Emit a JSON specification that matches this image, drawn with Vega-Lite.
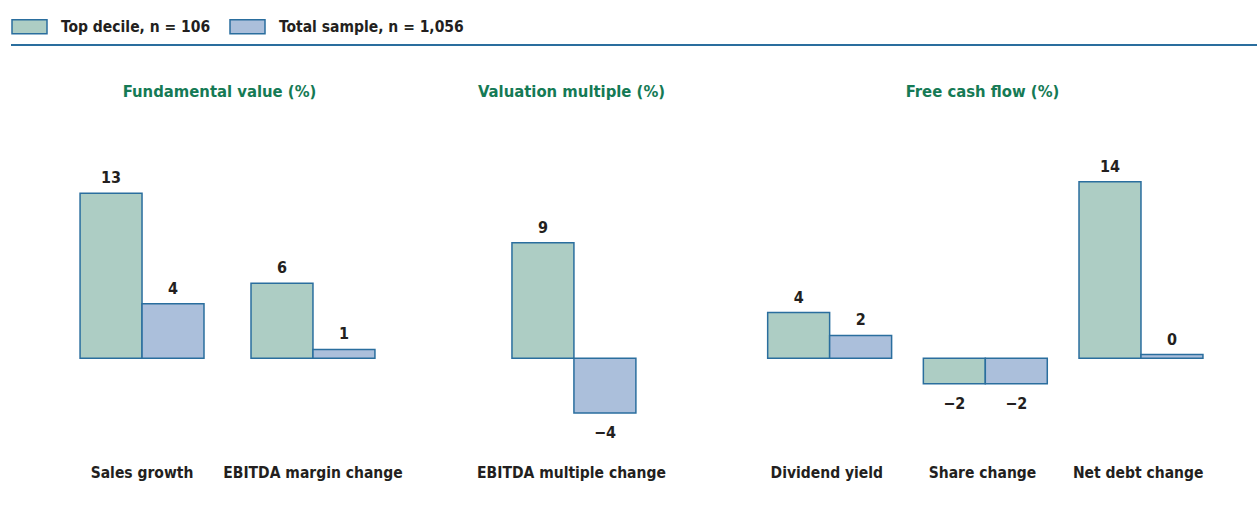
{
  "$schema": "https://vega.github.io/schema/vega-lite/v6.json",
  "padding": {"left": 10, "top": 0, "right": 0, "bottom": 30},
  "background": "white",
  "bounds": "flush",
  "spacing": 110,
  "config": {
    "view": {"stroke": null},
    "font": "DejaVu Sans Condensed, sans-serif",
    "axis": {
      "labelFont": "DejaVu Sans Condensed, sans-serif",
      "labelFontSize": 15.5,
      "labelFontWeight": "bold",
      "labelColor": "#231f20",
      "labelLimit": 0,
      "domain": false,
      "ticks": false,
      "grid": false,
      "labelPadding": 5,
      "labelAngle": 0,
      "title": null
    },
    "legend": {
      "labelFont": "DejaVu Sans Condensed, sans-serif",
      "labelFontSize": 15.5,
      "labelFontWeight": "bold",
      "labelColor": "#231f20",
      "labelLimit": 0
    }
  },
  "datasets": {
    "bars": [
      {"panel": "fund", "category": "Sales growth", "series": "Top decile, n = 106", "value": 13.0},
      {"panel": "fund", "category": "Sales growth", "series": "Total sample, n = 1,056", "value": 4.3},
      {"panel": "fund", "category": "EBITDA  margin change", "series": "Top decile, n = 106", "value": 5.9},
      {"panel": "fund", "category": "EBITDA  margin change", "series": "Total sample, n = 1,056", "value": 0.7},
      {"panel": "val", "category": "EBITDA  multiple change", "series": "Top decile, n = 106", "value": 9.1},
      {"panel": "val", "category": "EBITDA  multiple change", "series": "Total sample, n = 1,056", "value": -4.3},
      {"panel": "fcf", "category": "Dividend yield", "series": "Top decile, n = 106", "value": 3.6},
      {"panel": "fcf", "category": "Dividend yield", "series": "Total sample, n = 1,056", "value": 1.8},
      {"panel": "fcf", "category": "Share change", "series": "Top decile, n = 106", "value": -2.0},
      {"panel": "fcf", "category": "Share change", "series": "Total sample, n = 1,056", "value": -2.0},
      {"panel": "fcf", "category": "Net debt change", "series": "Top decile, n = 106", "value": 13.9},
      {"panel": "fcf", "category": "Net debt change", "series": "Total sample, n = 1,056", "value": 0.3}
    ]
  },
  "vconcat": [
    {
      "width": 1247,
      "height": 45,
      "data": {"values": [{"v": 0}]},
      "mark": {"type": "rule", "color": "#2a6e9e", "strokeWidth": 2},
      "encoding": {
        "x": {"datum": 0, "type": "quantitative", "scale": {"domain": [0, 1]}, "axis": null},
        "x2": {"datum": 1},
        "y": {"datum": 0, "type": "quantitative", "scale": {"domain": [0, 1]}, "axis": null}
      }
    },
    {
      "bounds": "flush",
      "spacing": 0,
      "hconcat": [
        {"width": 60, "height": 305, "data": {"values": []}, "mark": "point"},
        {
          "width": 313,
          "height": 305,
          "title": {"text": "Fundamental value (%)", "fontSize": 16.5, "fontWeight": "bold", "color": "#157a55", "offset": 55, "font": "DejaVu Sans Condensed, sans-serif", "dx": -8},
          "data": {"name": "bars"},
          "transform": [{"filter": "datum.panel === 'fund'"}],
          "encoding": {
            "x": {"field": "category", "type": "nominal", "sort": null, "scale": {"paddingInner": 0.275, "paddingOuter": 0.053}},
            "xOffset": {"field": "series", "type": "nominal", "sort": null, "scale": {"paddingInner": 0, "paddingOuter": 0}},
            "y": {"field": "value", "type": "quantitative", "scale": {"domain": [-8, 16], "nice": false}, "axis": null}
          },
          "layer": [
            {
              "mark": {"type": "bar", "stroke": "#2a6e9e", "strokeWidth": 1.5},
              "encoding": {
                "color": {"field": "series", "type": "nominal", "sort": null,
                  "scale": {"domain": ["Top decile, n = 106", "Total sample, n = 1,056"], "range": ["#adcdc4", "#abbfdb"]},
                  "legend": {"orient": "none", "direction": "horizontal", "legendX": 0, "legendY": 8, "title": null,
                    "symbolType": "M-1,-0.4H1V0.4H-1Z", "symbolSize": 1225, "symbolStrokeColor": "#2a6e9e", "symbolStrokeWidth": 1.5, "symbolOpacity": 1,
                    "labelOffset": 13, "columnPadding": 16}}
              }
            },
            {
              "transform": [{"filter": "datum.value >= 0"}],
              "mark": {"type": "text", "baseline": "alphabetic", "dy": -10, "fontSize": 16, "fontWeight": "bold", "color": "#231f20"},
              "encoding": {"text": {"field": "value", "type": "quantitative", "format": ".0f"}}
            },
            {
              "transform": [{"filter": "datum.value < 0"}],
              "mark": {"type": "text", "baseline": "top", "dy": 12, "fontSize": 16, "fontWeight": "bold", "color": "#231f20"},
              "encoding": {"text": {"field": "value", "type": "quantitative", "format": ".0f"}}
            },
            {
              "data": {"values": [{"z": 0}]},
              "mark": {"type": "rule", "color": "#2a6e9e", "strokeWidth": 1.5},
              "encoding": {"y": {"datum": 0}, "x": null, "xOffset": null}
            }
          ]
        },
        {"width": 120, "height": 305, "data": {"values": []}, "mark": "point"},
        {
          "width": 135,
          "height": 305,
          "title": {"text": "Valuation multiple (%)", "fontSize": 16.5, "fontWeight": "bold", "color": "#157a55", "offset": 55, "font": "DejaVu Sans Condensed, sans-serif"},
          "data": {"name": "bars"},
          "transform": [{"filter": "datum.panel === 'val'"}],
          "encoding": {
            "x": {"field": "category", "type": "nominal", "sort": null, "scale": {"paddingInner": 0.237, "paddingOuter": 0.051}},
            "xOffset": {"field": "series", "type": "nominal", "sort": null, "scale": {"paddingInner": 0, "paddingOuter": 0}},
            "y": {"field": "value", "type": "quantitative", "scale": {"domain": [-8, 16], "nice": false}, "axis": null}
          },
          "layer": [
            {
              "mark": {"type": "bar", "stroke": "#2a6e9e", "strokeWidth": 1.5},
              "encoding": {"color": {"field": "series", "type": "nominal", "sort": null}}
            },
            {
              "transform": [{"filter": "datum.value >= 0"}],
              "mark": {"type": "text", "baseline": "alphabetic", "dy": -10, "fontSize": 16, "fontWeight": "bold", "color": "#231f20"},
              "encoding": {"text": {"field": "value", "type": "quantitative", "format": ".0f"}}
            },
            {
              "transform": [{"filter": "datum.value < 0"}],
              "mark": {"type": "text", "baseline": "top", "dy": 12, "fontSize": 16, "fontWeight": "bold", "color": "#231f20"},
              "encoding": {"text": {"field": "value", "type": "quantitative", "format": ".0f"}}
            },
            {
              "data": {"values": [{"z": 0}]},
              "mark": {"type": "rule", "color": "#4f8ab5", "strokeWidth": 1.2},
              "encoding": {"y": {"datum": 0}, "x": null, "xOffset": null}
            }
          ]
        },
        {"width": 117, "height": 305, "data": {"values": []}, "mark": "point"},
        {
          "width": 453,
          "height": 305,
          "title": {"text": "Free cash flow (%)", "fontSize": 16.5, "fontWeight": "bold", "color": "#157a55", "offset": 55, "font": "DejaVu Sans Condensed, sans-serif"},
          "data": {"name": "bars"},
          "transform": [{"filter": "datum.panel === 'fcf'"}],
          "encoding": {
            "x": {"field": "category", "type": "nominal", "sort": null, "scale": {"paddingInner": 0.24, "paddingOuter": 0.075}},
            "xOffset": {"field": "series", "type": "nominal", "sort": null, "scale": {"paddingInner": 0, "paddingOuter": 0}},
            "y": {"field": "value", "type": "quantitative", "scale": {"domain": [-8, 16], "nice": false}, "axis": null}
          },
          "layer": [
            {
              "mark": {"type": "bar", "stroke": "#2a6e9e", "strokeWidth": 1.5},
              "encoding": {"color": {"field": "series", "type": "nominal", "sort": null}}
            },
            {
              "transform": [{"filter": "datum.value >= 0"}],
              "mark": {"type": "text", "baseline": "alphabetic", "dy": -10, "fontSize": 16, "fontWeight": "bold", "color": "#231f20"},
              "encoding": {"text": {"field": "value", "type": "quantitative", "format": ".0f"}}
            },
            {
              "transform": [{"filter": "datum.value < 0"}],
              "mark": {"type": "text", "baseline": "top", "dy": 12, "fontSize": 16, "fontWeight": "bold", "color": "#231f20"},
              "encoding": {"text": {"field": "value", "type": "quantitative", "format": ".0f"}}
            },
            {
              "data": {"values": [{"z": 0}]},
              "mark": {"type": "rule", "color": "#2a6e9e", "strokeWidth": 1.5},
              "encoding": {"y": {"datum": 0}, "x": null, "xOffset": null}
            }
          ]
        }
      ]
    }
  ]
}
